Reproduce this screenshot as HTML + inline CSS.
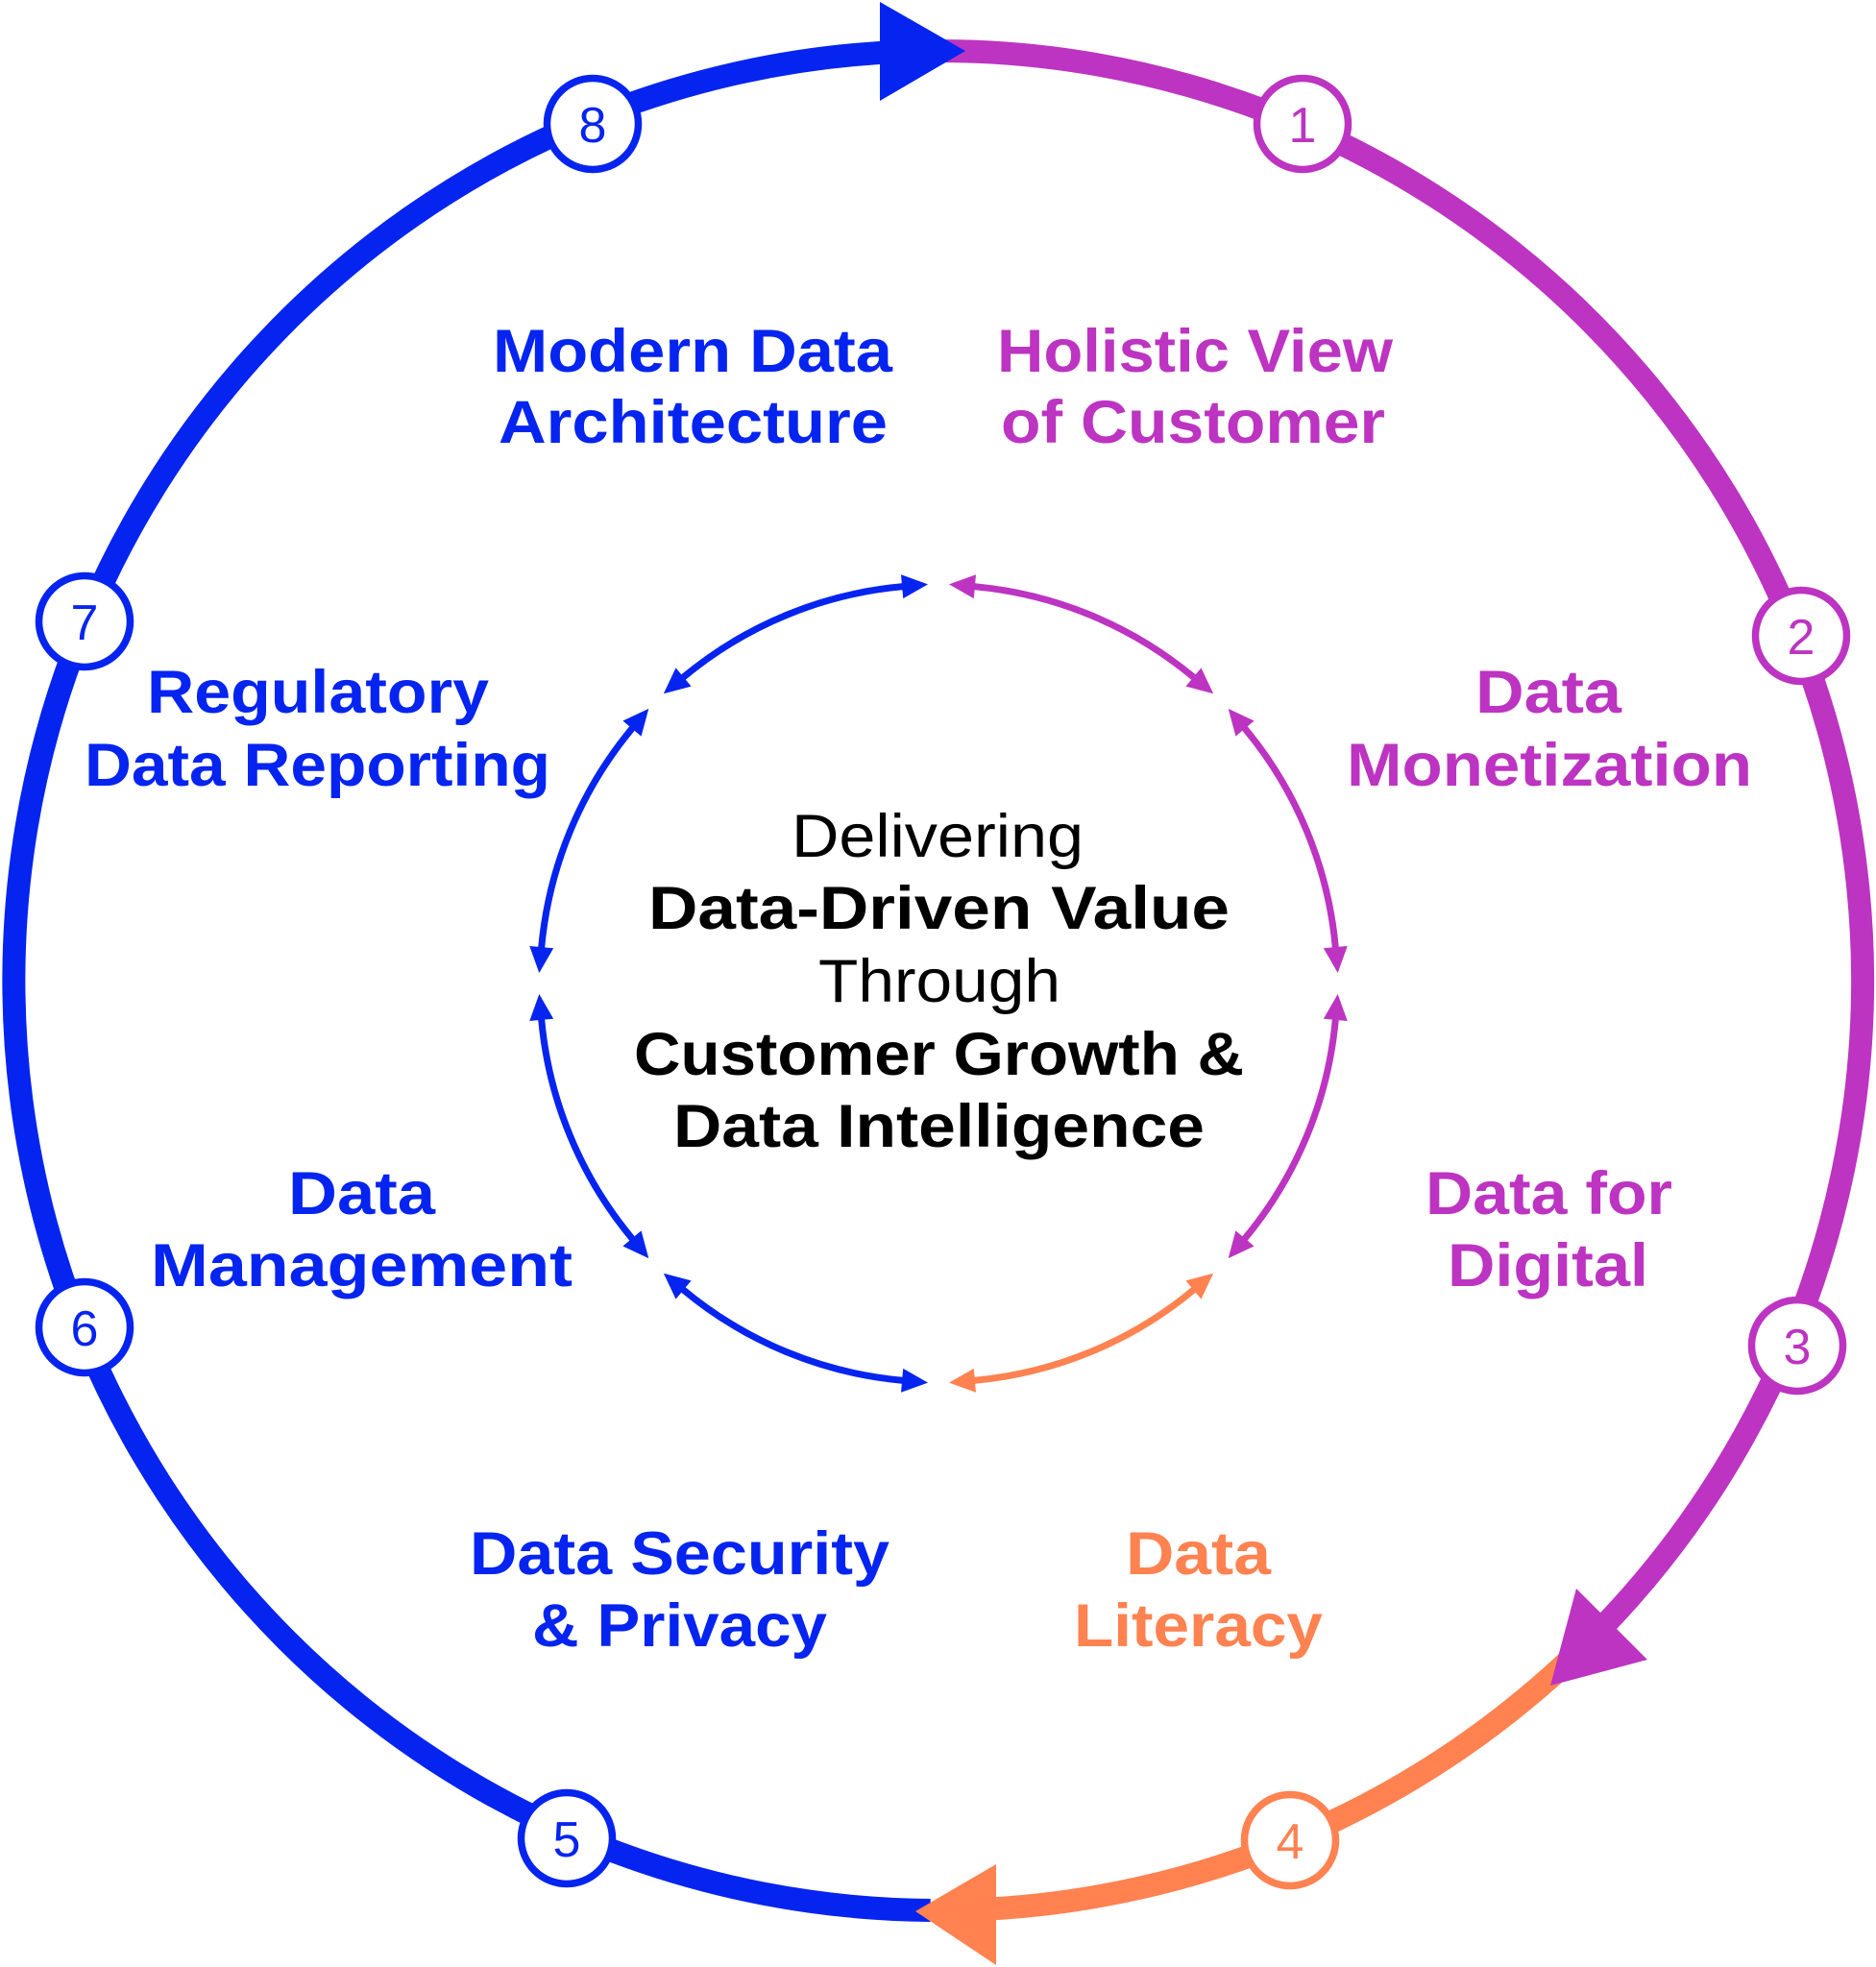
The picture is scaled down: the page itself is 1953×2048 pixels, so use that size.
<!DOCTYPE html>
<html>
<head>
<meta charset="utf-8">
<style>
  html, body { margin: 0; padding: 0; background: #ffffff; }
  body { width: 1953px; height: 2048px; overflow: hidden; }
  svg { display: block; }
  .lbl { font-family: "Liberation Sans", "DejaVu Sans", sans-serif; font-weight: bold; font-size: 63px; }
  .reg { font-family: "Liberation Sans", "DejaVu Sans", sans-serif; font-weight: normal; font-size: 63px; }
  .num { font-family: "Liberation Sans", "DejaVu Sans", sans-serif; font-weight: normal; font-size: 52px; }
</style>
</head>
<body>
<svg width="1953" height="2048" viewBox="0 0 1953 2048" xmlns="http://www.w3.org/2000/svg">
  <defs>
    <marker id="mb" markerUnits="userSpaceOnUse" viewBox="0 -13 28 26" markerWidth="28" markerHeight="26" refX="0" refY="0" orient="auto-start-reverse" style="overflow:visible">
      <path d="M-1,-12.5 L26,0 L-1,12.5 Z" fill="#0524F0"/>
    </marker>
    <marker id="mm" markerUnits="userSpaceOnUse" viewBox="0 -13 28 26" markerWidth="28" markerHeight="26" refX="0" refY="0" orient="auto-start-reverse" style="overflow:visible">
      <path d="M-1,-12.5 L26,0 L-1,12.5 Z" fill="#BC34C1"/>
    </marker>
    <marker id="mo" markerUnits="userSpaceOnUse" viewBox="0 -13 28 26" markerWidth="28" markerHeight="26" refX="0" refY="0" orient="auto-start-reverse" style="overflow:visible">
      <path d="M-1,-12.5 L26,0 L-1,12.5 Z" fill="#FF8250"/>
    </marker>
  </defs>

  <!-- Outer ring arcs -->
  <path d="M 968.6 1989 A 962 968 0 0 1 943.4 53.6" fill="none" stroke="#0524F0" stroke-width="24"/>
  <path d="M 960.2 53.1 A 962 968 0 0 1 1645.3 1717.3" fill="none" stroke="#BC34C1" stroke-width="24"/>
  <path d="M 1657.2 1705.5 A 962 968 0 0 1 1010.6 1988.4" fill="none" stroke="#FF8250" stroke-width="24"/>

  <!-- Outer arrowheads -->
  <polygon points="916,2 916,105 1005,53" fill="#0524F0"/>
  <polygon points="1641,1654 1715,1728 1614,1755" fill="#BC34C1"/>
  <polygon points="953,1990 1037,1941 1037,2046" fill="#FF8250"/>

  <!-- Markers -->
  <g stroke-width="7.5" fill="#ffffff">
    <circle cx="1356" cy="129" r="47.5" stroke="#BC34C1"/>
    <circle cx="1875" cy="662" r="47.5" stroke="#BC34C1"/>
    <circle cx="1871" cy="1401" r="47.5" stroke="#BC34C1"/>
    <circle cx="1343" cy="1916" r="47.5" stroke="#FF8250"/>
    <circle cx="590" cy="1914" r="47.5" stroke="#0524F0"/>
    <circle cx="88" cy="1382" r="47.5" stroke="#0524F0"/>
    <circle cx="88" cy="647" r="47.5" stroke="#0524F0"/>
    <circle cx="617" cy="129" r="47.5" stroke="#0524F0"/>
  </g>
  <g class="num" text-anchor="middle">
    <text x="1356" y="148" fill="#BC34C1">1</text>
    <text x="1875" y="681" fill="#BC34C1">2</text>
    <text x="1871" y="1420" fill="#BC34C1">3</text>
    <text x="1343" y="1935" fill="#FF8250">4</text>
    <text x="590" y="1933" fill="#0524F0">5</text>
    <text x="88" y="1401" fill="#0524F0">6</text>
    <text x="88" y="666" fill="#0524F0">7</text>
    <text x="617" y="148" fill="#0524F0">8</text>
  </g>

  <!-- Inner ring arcs with double arrows -->
  <g fill="none" stroke-width="7">
    <path d="M 1390.36 1060.89 A 415 415 0 0 1 1295.38 1290.2" stroke="#BC34C1" marker-start="url(#mm)" marker-end="url(#mm)"/>
    <path d="M 1243.2 1342.38 A 415 415 0 0 1 1013.89 1437.36" stroke="#FF8250" marker-start="url(#mo)" marker-end="url(#mo)"/>
    <path d="M 940.11 1437.36 A 415 415 0 0 1 710.8 1342.38" stroke="#0524F0" marker-start="url(#mb)" marker-end="url(#mb)"/>
    <path d="M 658.62 1290.2 A 415 415 0 0 1 563.64 1060.89" stroke="#0524F0" marker-start="url(#mb)" marker-end="url(#mb)"/>
    <path d="M 563.64 987.11 A 415 415 0 0 1 658.62 757.8" stroke="#0524F0" marker-start="url(#mb)" marker-end="url(#mb)"/>
    <path d="M 710.8 705.62 A 415 415 0 0 1 940.11 610.64" stroke="#0524F0" marker-start="url(#mb)" marker-end="url(#mb)"/>
    <path d="M 1013.89 610.64 A 415 415 0 0 1 1243.2 705.62" stroke="#BC34C1" marker-start="url(#mm)" marker-end="url(#mm)"/>
    <path d="M 1295.38 757.8 A 415 415 0 0 1 1390.36 987.11" stroke="#BC34C1" marker-start="url(#mm)" marker-end="url(#mm)"/>
  </g>

  <!-- Labels -->
  <g class="lbl" text-anchor="middle">
    <text x="721" y="387" fill="#0524F0" textLength="416" lengthAdjust="spacingAndGlyphs">Modern Data</text>
    <text x="721.5" y="461" fill="#0524F0" textLength="405" lengthAdjust="spacingAndGlyphs">Architecture</text>

    <text x="1244" y="387" fill="#BC34C1" textLength="412" lengthAdjust="spacingAndGlyphs">Holistic View</text>
    <text x="1242" y="461" fill="#BC34C1" textLength="400" lengthAdjust="spacingAndGlyphs">of Customer</text>

    <text x="331" y="742" fill="#0524F0" textLength="356" lengthAdjust="spacingAndGlyphs">Regulatory</text>
    <text x="330.5" y="818" fill="#0524F0" textLength="485" lengthAdjust="spacingAndGlyphs">Data Reporting</text>

    <text x="1612" y="742" fill="#BC34C1" textLength="152" lengthAdjust="spacingAndGlyphs">Data</text>
    <text x="1613" y="818" fill="#BC34C1" textLength="422" lengthAdjust="spacingAndGlyphs">Monetization</text>

    <text x="376.5" y="1264" fill="#0524F0" textLength="153" lengthAdjust="spacingAndGlyphs">Data</text>
    <text x="376.5" y="1339" fill="#0524F0" textLength="439" lengthAdjust="spacingAndGlyphs">Management</text>

    <text x="1612.5" y="1264" fill="#BC34C1" textLength="257" lengthAdjust="spacingAndGlyphs">Data for</text>
    <text x="1611.5" y="1339" fill="#BC34C1" textLength="209" lengthAdjust="spacingAndGlyphs">Digital</text>

    <text x="707.5" y="1639" fill="#0524F0" textLength="437" lengthAdjust="spacingAndGlyphs">Data Security</text>
    <text x="707.5" y="1714" fill="#0524F0" textLength="307" lengthAdjust="spacingAndGlyphs">&amp; Privacy</text>

    <text x="1247.5" y="1639" fill="#FF8250" textLength="151" lengthAdjust="spacingAndGlyphs">Data</text>
    <text x="1247.5" y="1714" fill="#FF8250" textLength="259" lengthAdjust="spacingAndGlyphs">Literacy</text>
  </g>

  <!-- Center text -->
  <text class="reg" x="976" y="892" fill="#000" text-anchor="middle" textLength="304" lengthAdjust="spacingAndGlyphs">Delivering</text>
  <text class="lbl" x="977.5" y="967" fill="#000" text-anchor="middle" textLength="605" lengthAdjust="spacingAndGlyphs">Data-Driven Value</text>
  <text class="reg" x="978" y="1043" fill="#000" text-anchor="middle" textLength="252" lengthAdjust="spacingAndGlyphs">Through</text>
  <text class="lbl" x="977.5" y="1119" fill="#000" text-anchor="middle" textLength="635" lengthAdjust="spacingAndGlyphs">Customer Growth &amp;</text>
  <text class="lbl" x="977.5" y="1194" fill="#000" text-anchor="middle" textLength="553" lengthAdjust="spacingAndGlyphs">Data Intelligence</text>
</svg>
</body>
</html>
